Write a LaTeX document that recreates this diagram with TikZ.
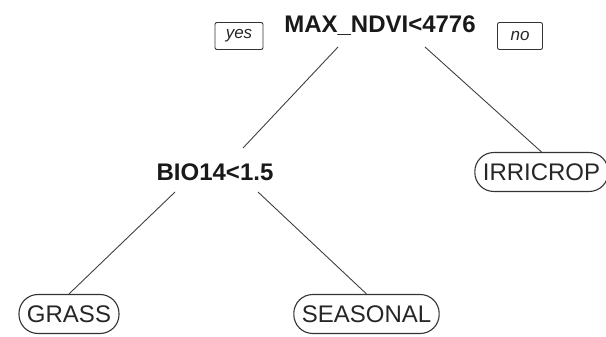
\documentclass[tikz,border=0pt]{standalone}
\usepackage{fontspec}
\setmainfont{Liberation Sans}
\begin{document}
\begin{tikzpicture}[x=1pt,y=-1pt,
  split/.style={font=\fontsize{24}{26}\selectfont\bfseries, text=black!90, inner sep=0pt},
  leaf/.style={draw=black!80, line width=1.1pt, rounded corners=19pt, minimum height=39pt,
    inner xsep=8pt, inner ysep=0pt, font=\fontsize{24}{26}\selectfont, text=black!85},
  tag/.style={draw=black!80, line width=0.9pt, rounded corners=2pt, minimum height=27pt,
    inner xsep=5pt, font=\fontsize{17}{19}\selectfont\itshape, text=black!85},
  branch/.style={draw=black!75, line width=0.9pt}]
\useasboundingbox (0,0) rectangle (606,337);
\node[split] (root) at (380,26) {MAX\_NDVI<4776};
\node[split] (bio) at (215,172) {BIO14<1.5};
\node[leaf] (irr) at (541.5,172) {IRRICROP};
\node[leaf] (grass) at (69,314) {GRASS};
\node[leaf] (seas) at (366.5,314) {SEASONAL};
\node[tag, minimum width=48pt] (yes) at (239,36) {yes};
\node[tag, minimum width=45pt] (no) at (520,36) {no};
\coordinate (rl) at (338,47);
\coordinate (rr) at (425,47);
\coordinate (bt) at (243,148);
\coordinate (bl) at (175,192);
\coordinate (br) at (258,192);
\draw[branch] (rl) -- (bt);
\draw[branch] (rr) -- (irr.north);
\draw[branch] (bl) -- (grass.north);
\draw[branch] (br) -- (seas.north);
\end{tikzpicture}
\end{document}
